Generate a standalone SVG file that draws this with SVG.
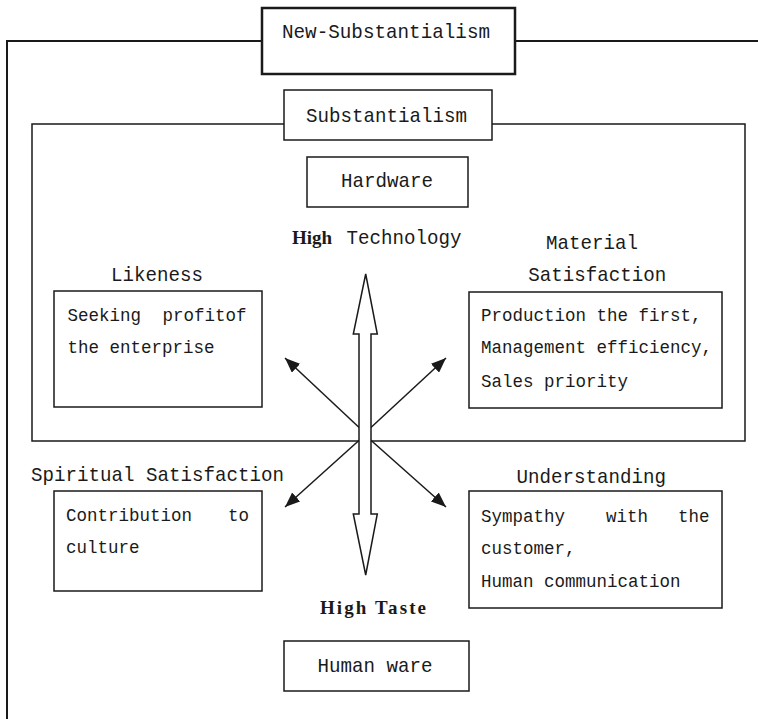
<svg xmlns="http://www.w3.org/2000/svg" width="758" height="719" viewBox="0 0 758 719">
<style>
.mono{font-family:"Liberation Mono","DejaVu Sans Mono",monospace;fill:#1a1a1a;}
.lbl{font-size:21px;}
.box{font-size:19px;}
.bold{font-family:"Liberation Serif","DejaVu Serif",serif;font-weight:bold;fill:#1a1a1a;}
.frame{fill:none;stroke:#1a1a1a;}
.node{fill:#fff;stroke:#1a1a1a;stroke-width:1.5;}
.conn{stroke:#1a1a1a;stroke-width:1.5;fill:none;}
</style>
<defs>
<marker id="ah" markerUnits="userSpaceOnUse" markerWidth="16" markerHeight="12" refX="15" refY="6" orient="auto">
<path d="M0,0 L15,6 L0,12 Z" fill="#1a1a1a"/>
</marker>
</defs>
<rect width="758" height="719" fill="#fff"/>
<g id="frames">
<path class="frame" stroke-width="2" d="M7,719 V41 H262 M515,41 H758"/>
<path class="frame" stroke-width="1.5" d="M284,124 H32 V441 H745 V124 H492"/>
</g>
<g id="new-substantialism">
<rect x="262" y="8" width="253" height="66" fill="#fff" stroke="#1a1a1a" stroke-width="2.5"/>
<text class="mono lbl" x="282" y="38" textLength="208" lengthAdjust="spacingAndGlyphs">New-Substantialism</text>
</g>
<g id="substantialism">
<rect class="node" x="284" y="90" width="208" height="50"/>
<text class="mono lbl" x="306" y="121.5" textLength="161" lengthAdjust="spacingAndGlyphs">Substantialism</text>
</g>
<g id="hardware">
<rect class="node" x="307" y="157" width="161" height="50"/>
<text class="mono lbl" x="341" y="187.3" textLength="92" lengthAdjust="spacingAndGlyphs">Hardware</text>
</g>
<g id="high-technology">
<text class="bold" font-size="19" x="292" y="244">High</text>
<text class="mono lbl" x="346.5" y="244" textLength="115" lengthAdjust="spacingAndGlyphs">Technology</text>
</g>
<g id="likeness">
<text class="mono lbl" x="111" y="280.7" textLength="92" lengthAdjust="spacingAndGlyphs">Likeness</text>
<rect class="node" x="54" y="291" width="208" height="116"/>
<text class="mono box" x="67.5" y="320.7" textLength="73.5" lengthAdjust="spacingAndGlyphs">Seeking</text>
<text class="mono box" x="162.5" y="320.7" textLength="84" lengthAdjust="spacingAndGlyphs">profitof</text>
<text class="mono box" x="67.5" y="352.7" textLength="147" lengthAdjust="spacingAndGlyphs">the enterprise</text>
</g>
<g id="material-satisfaction">
<text class="mono lbl" x="546" y="249" textLength="92" lengthAdjust="spacingAndGlyphs">Material</text>
<text class="mono lbl" x="528.3" y="281" textLength="138" lengthAdjust="spacingAndGlyphs">Satisfaction</text>
<rect class="node" x="469" y="292" width="253" height="116"/>
<text class="mono box" x="481" y="321" textLength="220.5" lengthAdjust="spacingAndGlyphs">Production the first,</text>
<text class="mono box" x="481" y="353.3" textLength="231" lengthAdjust="spacingAndGlyphs">Management efficiency,</text>
<text class="mono box" x="481" y="386.7" textLength="147" lengthAdjust="spacingAndGlyphs">Sales priority</text>
</g>
<g id="spiritual-satisfaction">
<text class="mono lbl" x="31" y="480.7" textLength="253" lengthAdjust="spacingAndGlyphs">Spiritual Satisfaction</text>
<rect class="node" x="54" y="491" width="208" height="100"/>
<text class="mono box" x="66" y="520.7" textLength="126" lengthAdjust="spacingAndGlyphs">Contribution</text>
<text class="mono box" x="228" y="520.7" textLength="21" lengthAdjust="spacingAndGlyphs">to</text>
<text class="mono box" x="66" y="553.3" textLength="73.5" lengthAdjust="spacingAndGlyphs">culture</text>
</g>
<g id="understanding">
<text class="mono lbl" x="516.6" y="483.3" textLength="149.5" lengthAdjust="spacingAndGlyphs">Understanding</text>
<rect class="node" x="469" y="491" width="253" height="117"/>
<text class="mono box" x="481" y="521.7" textLength="84" lengthAdjust="spacingAndGlyphs">Sympathy</text>
<text class="mono box" x="606" y="521.7" textLength="42" lengthAdjust="spacingAndGlyphs">with</text>
<text class="mono box" x="678" y="521.7" textLength="31.5" lengthAdjust="spacingAndGlyphs">the</text>
<text class="mono box" x="481" y="554" textLength="94.5" lengthAdjust="spacingAndGlyphs">customer,</text>
<text class="mono box" x="481" y="586.7" textLength="199.5" lengthAdjust="spacingAndGlyphs">Human communication</text>
</g>
<g id="high-taste">
<text class="bold" font-size="19" x="320" y="614" textLength="106" lengthAdjust="spacing">High Taste</text>
</g>
<g id="human-ware">
<rect class="node" x="284" y="641" width="185" height="50"/>
<text class="mono lbl" x="317.5" y="671.7" textLength="115" lengthAdjust="spacingAndGlyphs">Human ware</text>
</g>
<g id="connectors">
<line class="conn" x1="365" y1="433" x2="285" y2="358" marker-end="url(#ah)"/>
<line class="conn" x1="365" y1="433" x2="446" y2="358" marker-end="url(#ah)"/>
<line class="conn" x1="365" y1="435" x2="446" y2="507" marker-end="url(#ah)"/>
<line class="conn" x1="365" y1="435" x2="285" y2="507" marker-end="url(#ah)"/>
<polygon points="365.7,274 377.3,334 371,334 371,514 377.3,514 365.7,575 353.3,514 359,514 359,334 353.3,334" fill="#fff" stroke="#1a1a1a" stroke-width="1.5" stroke-linejoin="miter"/>
</g>
</svg>
